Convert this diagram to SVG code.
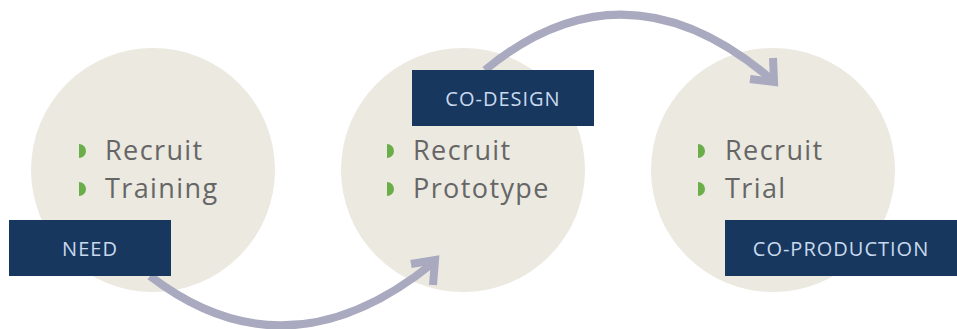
<svg xmlns="http://www.w3.org/2000/svg" width="957" height="329" viewBox="0 0 957 329">
<style>
.circle{fill:#ebe9e0}
.item{font-family:"Open Sans","Liberation Sans",sans-serif;font-size:27px;fill:#666666;letter-spacing:1.4px}
.bullet{fill:#6aae4a}
.box{fill:#17375e}
.label{font-family:"Open Sans","Liberation Sans",sans-serif;font-size:20px;font-weight:500;fill:#c9d9ee;text-anchor:middle;letter-spacing:1px}
.arrow{fill:none;stroke:#a9a9bf;stroke-width:8}
</style>
<defs>
<path id="b" d="M0,-7 A7,7 0 0 1 0,7 Z" class="bullet"/>
</defs>
<g id="circles">
<g id="circle-need">
<circle class="circle" cx="153" cy="170" r="122"/>
<use href="#b" x="79" y="151"/>
<use href="#b" x="79" y="189"/>
<text class="item" x="105" y="160">Recruit</text>
<text class="item" x="105" y="198">Training</text>
</g>
<g id="circle-codesign">
<circle class="circle" cx="463" cy="170" r="122"/>
<use href="#b" x="387" y="151"/>
<use href="#b" x="387" y="189"/>
<text class="item" x="413" y="160">Recruit</text>
<text class="item" x="413" y="198">Prototype</text>
</g>
<g id="circle-coproduction">
<circle class="circle" cx="773" cy="170" r="122"/>
<use href="#b" x="698" y="151"/>
<use href="#b" x="698" y="189"/>
<text class="item" x="725" y="160">Recruit</text>
<text class="item" x="725" y="198">Trial</text>
</g>
</g>
<g id="connectors">
<path class="arrow" d="M150,276 Q287,381 433,263"/>
<path class="arrow" d="M411,264 L435,260 L433,285" stroke-linejoin="miter"/>
<path class="arrow" d="M485,70 Q625,-45 771,79"/>
<path class="arrow" d="M750,79 L774,82 L773,58" stroke-linejoin="miter"/>
</g>
<g id="need">
<rect class="box" x="9" y="220" width="162" height="56"/>
<text class="label" x="90" y="256">NEED</text>
</g>
<g id="codesign">
<rect class="box" x="412" y="70" width="182" height="56"/>
<text class="label" x="503" y="106">CO-DESIGN</text>
</g>
<g id="coproduction">
<rect class="box" x="725" y="220" width="232" height="56"/>
<text class="label" x="841" y="256">CO-PRODUCTION</text>
</g>
</svg>
